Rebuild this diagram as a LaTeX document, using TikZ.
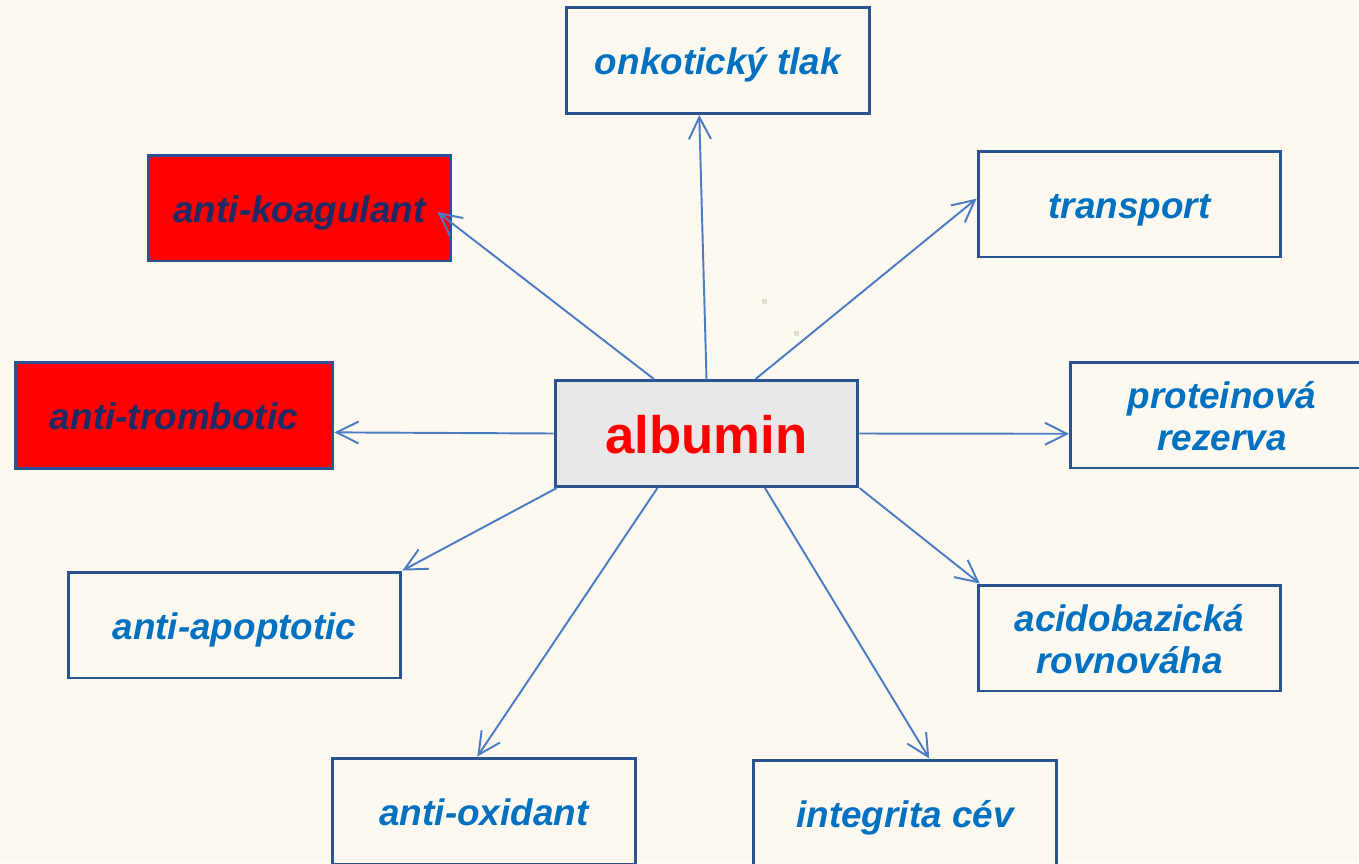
\documentclass[tikz,border=0pt]{standalone}
\usepackage{fontspec}
\setmainfont{Liberation Sans}
\usetikzlibrary{arrows.meta,calc}
\definecolor{cream}{HTML}{FDF9F1}
\definecolor{boxline}{HTML}{2A5391}
\definecolor{arrline}{HTML}{4A7CC4}
\definecolor{labblue}{HTML}{0070C0}
\definecolor{labnavy}{HTML}{1C2B66}
\definecolor{albfill}{HTML}{E8E8E8}
\definecolor{speck}{HTML}{E3DACB}
\newcommand{\twoline}[2]{\begin{tabular}[t]{@{}c@{}}#1\\#2\end{tabular}}

\begin{document}
\begin{tikzpicture}[x=0.02cm, y=-0.02cm,
        fbox/.style={draw=boxline, line width=1.7pt, fill=cream, text=labblue,
            font=\fontsize{21}{24}\selectfont\bfseries\itshape,
            minimum width=6.06cm, minimum height=2.12cm, inner sep=0pt,
            text height=0.66cm, text depth=0.1cm},
        twobox/.style={fbox, text height=0.5cm, text depth=0.78cm},
        redbox/.style={fbox, fill=red, text=labnavy},
        arr/.style={draw=arrline, line width=1.1pt, -{Straight Barb[length=4.4mm, width=4.4mm]}}]
        \clip (0,0) rectangle (1359,863);
        \fill [cream] (0,0) rectangle (1359,863);
        \fill [speck] (762,299) rectangle (767,304);
        \fill [speck] (794,331) rectangle (799,336);
        % centre
        \node [fbox, fill=albfill, text=red, font=\fontsize{30}{36}\selectfont\bfseries,
            text height=0.9cm, text depth=0.12cm] (alb) at (706.5,433.5) {albumin};
        % top row
        \node [fbox] (onk) at (718,60.5) {onkotický tlak};
        \node [redbox] (koag) at (299.5,208) {anti-koagulant};
        \node [fbox] (trans) at (1129.5,204) {transport};
        % middle row
        \node [redbox, minimum width=6.36cm] (tromb) at (174,415.5) {anti-trombotic};
        \node [twobox] (prot) at (1222,415) {\twoline{proteinová}{rezerva}};
        % bottom rows
        \node [fbox, minimum width=6.66cm] (apop) at (234.5,625) {anti-apoptotic};
        \node [twobox] (acid) at (1129.5,638) {\twoline{acidobazická}{rovnováha}};
        \node [fbox] (oxid) at (484,811) {anti-oxidant};
        \node [fbox] (integ) at (905,813) {integrita cév};
        % arrows
        \draw [arr] (alb.90) -- (onk.251);
        \draw [arr] (alb.134) -- ($(koag.east)+(-15,4)$);
        \draw [arr] (alb.48) -- (trans.178);
        \draw [arr] (alb.west) -- (tromb.354);
        \draw [arr] (alb.east) -- (prot.187);
        \draw [arr] (alb.200) -- (apop.north east);
        \draw [arr] (alb.south east) -- (acid.160);
        \draw [arr] (alb.228) -- (oxid.97);
        \draw [arr] (alb.317) -- (integ.66);
    \end{tikzpicture}
\end{document}
